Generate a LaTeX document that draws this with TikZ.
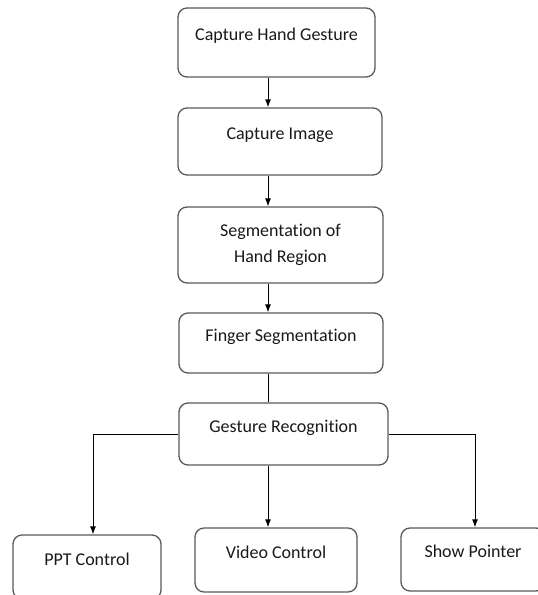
\documentclass[tikz,border=0pt]{standalone}
\usepackage{fontspec}
\setmainfont{Carlito}[Ligatures={NoCommon}]
\usetikzlibrary{arrows.meta}

\tikzset{
  box/.style={draw=black!65, line width=1.3pt, rounded corners=9pt, text=black!90,
    font=\fontsize{18pt}{26pt}\selectfont, inner sep=0pt},
  stage/.style={box, text height=13pt, text depth=17pt},
  link/.style={line width=1pt, -{Latex[length=8pt,width=6pt]}},
  plainlink/.style={line width=1pt},
}

\begin{document}
\begin{tikzpicture}[x=1pt,y=-1pt]
        \useasboundingbox (0,0) rectangle (538,595);
        \clip (0,0) rectangle (538,595);
        % main chain
        \node[stage, minimum width=197pt, minimum height=69pt] (gest) at (276.5,42.5) {Capture Hand Gesture};
        \node[stage, minimum width=204pt, minimum height=67pt] (img) at (280,141.5) {Capture Image};
        \node[box, align=center, minimum width=205pt, minimum height=76pt] (seg) at (280.5,245) {Segmentation of\\Hand Region};
        \node[stage, minimum width=204pt, minimum height=60pt] (finger) at (281,343) {Finger Segmentation};
        \node[stage, minimum width=209pt, minimum height=62pt] (recog) at (283.5,434) {Gesture Recognition};
        % outputs
        \node[stage, minimum width=148pt, minimum height=64pt] (ppt) at (87,567) {PPT Control};
        \node[stage, minimum width=162pt, minimum height=64pt] (video) at (276,560) {Video Control};
        \node[stage, minimum width=144pt, minimum height=63pt] (pointer) at (473,559.5) {Show Pointer};
        % connectors
        \coordinate (spine) at (268,0);
        \draw[link] (gest.south -| spine) -- (img.north -| spine);
        \draw[link] (img.south -| spine) -- (seg.north -| spine);
        \draw[link] (seg.south -| spine) -- (finger.north -| spine);
        \draw[plainlink] (finger.south -| spine) -- (recog.north -| spine);
        \draw[link] (recog.south -| spine) -- (video.north -| spine);
        \draw[link] (recog.west) -| ([xshift=6pt]ppt.north);
        \draw[link] (recog.east) -| ([xshift=2pt]pointer.north);
    \end{tikzpicture}
\end{document}
